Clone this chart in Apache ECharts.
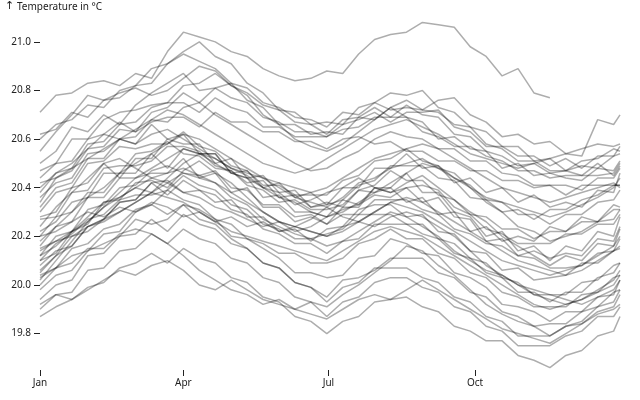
<!DOCTYPE html>
<html>
<head>
<meta charset="utf-8">
<script src="https://cdn.jsdelivr.net/npm/echarts@6/dist/echarts.min.js"></script>
<style>html,body{margin:0;padding:0;background:#fff;}#c{width:640px;height:400px;}</style>
</head>
<body>
<div id="c"></div>
<script>
// sample days (day of year), every 10 days plus Dec 31
const days = [];
for (let d = 0; d <= 360; d += 10) days.push(d);
days.push(364);

const monthTicks = [0, 90, 181, 273];
const monthLabels = ['Jan', 'Apr', 'Jul', 'Oct'];
const yTicks = [19.8, 20.0, 20.2, 20.4, 20.6, 20.8, 21.0];

// upper group
const sA = [20.71,20.78,20.79,20.83,20.84,20.82,20.87,20.85,20.96,21.04,
  21.02,21.00,20.96,20.94,20.89,20.86,20.84,20.85,20.88,20.87,
  20.95,21.01,21.03,21.04,21.08,21.07,21.06,20.98,20.94,20.86,
  20.89,20.79,20.77,null,null,null,null,null];
const sB = [20.60,20.66,20.68,20.74,20.73,20.80,20.82,20.89,20.91,20.95,
  20.92,20.89,20.83,20.81,20.75,20.73,20.69,20.68,20.65,20.71,
  20.70,20.75,20.72,20.73,20.72,20.76,20.77,20.70,20.67,20.61,
  20.62,20.58,20.59,20.54,20.53,20.68,20.66,20.70];
const sU3 = [20.62,20.64,20.71,20.69,20.76,20.77,20.82,20.83,20.91,20.96,
  21.00,20.94,20.91,20.83,20.79,20.72,20.71,20.66,20.67,20.66,
  20.73,20.75,20.79,20.78,20.80,20.73,20.71,20.65,20.63,20.57,
  20.57,20.51,20.52,20.47,20.51,20.52,20.56,20.55];
const sU4 = [20.55,20.63,20.70,20.78,20.76,20.79,20.81,20.78,20.80,20.85,
  20.90,20.88,20.82,20.79,20.74,20.72,20.67,20.66,20.62,20.68,
  20.69,20.73,20.69,20.74,20.70,20.69,20.62,20.61,20.55,20.53,
  20.49,20.50,20.46,20.47,20.49,20.48,20.53,20.54];
const sU5 = [20.50,20.55,20.65,20.63,20.70,20.66,20.74,20.79,20.83,20.87,
  20.80,20.81,20.83,20.76,20.73,20.66,20.66,20.62,20.63,20.62,
  20.69,20.68,20.73,20.69,20.67,20.60,20.61,20.56,20.55,20.48,
  20.50,20.45,20.46,20.44,20.43,20.48,20.47,20.51];
const sU6 = [20.47,20.50,20.60,20.60,20.68,20.71,20.72,20.74,20.75,20.82,
  20.83,20.87,20.82,20.78,20.70,20.66,20.60,20.57,20.55,20.58,
  20.63,20.68,20.73,20.76,20.72,20.71,20.66,20.65,20.58,20.56,
  20.51,20.51,20.47,20.47,20.45,20.50,20.45,20.49];
const sU7 = [20.44,20.50,20.51,20.60,20.62,20.67,20.63,20.71,20.73,20.79,
  20.75,20.81,20.77,20.75,20.69,20.67,20.63,20.63,20.61,20.66,
  20.68,20.71,20.67,20.71,20.71,20.72,20.65,20.63,20.57,20.57,
  20.53,20.53,20.49,20.52,20.48,20.53,20.53,20.57];
const sU8 = [20.38,20.46,20.48,20.58,20.59,20.66,20.67,20.73,20.75,20.75,
  20.71,20.77,20.73,20.71,20.65,20.65,20.61,20.61,20.61,20.64,
  20.65,20.69,20.69,20.69,20.63,20.61,20.57,20.57,20.53,20.51,
  20.47,20.47,20.44,20.45,20.45,20.45,20.46,20.50];
const sU9 = [20.36,20.42,20.44,20.54,20.55,20.60,20.61,20.68,20.67,20.73,
  20.75,20.70,20.66,20.62,20.58,20.54,20.50,20.47,20.48,20.52,
  20.55,20.60,20.63,20.61,20.60,20.56,20.56,20.51,20.51,20.46,
  20.45,20.41,20.41,20.41,20.39,20.44,20.44,20.48];
const sU10 = [20.34,20.44,20.47,20.56,20.57,20.64,20.63,20.67,20.69,20.69,
  20.65,20.71,20.67,20.67,20.63,20.63,20.59,20.59,20.56,20.60,
  20.61,20.58,20.59,20.55,20.55,20.51,20.51,20.47,20.47,20.43,
  20.43,20.40,20.41,20.37,20.41,20.41,20.41,20.41];

// middle group
const sM1 = [20.30,20.38,20.40,20.50,20.51,20.57,20.56,20.58,20.58,20.63,
  20.57,20.55,20.49,20.47,20.41,20.41,20.37,20.37,20.37,20.43,
  20.45,20.51,20.52,20.56,20.51,20.49,20.44,20.41,20.35,20.34,
  20.29,20.29,20.25,20.29,20.29,20.34,20.35,20.39];
const sM2 = [20.27,20.28,20.38,20.39,20.48,20.49,20.49,20.51,20.57,20.57,
  20.55,20.49,20.47,20.41,20.39,20.34,20.35,20.31,20.31,20.33,
  20.39,20.41,20.47,20.43,20.43,20.37,20.35,20.29,20.28,20.23,
  20.23,20.19,20.22,20.22,20.26,20.26,20.31,20.31];
const sM3 = [20.24,20.32,20.38,20.44,20.50,20.52,20.48,20.44,20.42,20.38,
  20.36,20.32,20.30,20.27,20.24,20.26,20.22,20.24,20.28,20.31,
  20.33,20.37,20.36,20.40,20.41,20.39,20.32,20.29,20.23,20.21,
  20.17,20.17,20.17,20.21,20.21,20.25,20.25,20.29];
const sM4 = [20.20,20.28,20.30,20.38,20.38,20.46,20.46,20.54,20.48,20.56,
  20.54,20.54,20.46,20.44,20.36,20.37,20.30,20.30,20.28,20.35,
  20.33,20.40,20.40,20.46,20.38,20.38,20.30,20.28,20.20,20.22,
  20.14,20.16,20.10,20.16,20.14,20.22,20.20,20.28];
const sM5 = [20.18,20.24,20.26,20.36,20.36,20.44,20.44,20.46,20.46,20.52,
  20.44,20.46,20.38,20.40,20.32,20.32,20.26,20.28,20.25,20.32,
  20.32,20.40,20.38,20.40,20.34,20.36,20.28,20.27,20.18,20.19,
  20.12,20.14,20.11,20.13,20.12,20.19,20.18,20.24];
const sM6 = [20.15,20.18,20.20,20.22,20.27,20.30,20.34,20.38,20.44,20.50,
  20.54,20.52,20.48,20.45,20.40,20.38,20.33,20.35,20.38,20.40,
  20.44,20.40,20.38,20.42,20.45,20.40,20.35,20.30,20.26,20.20,
  20.16,20.12,20.08,20.12,20.10,20.17,20.16,20.23];
const sM7 = [20.12,20.20,20.22,20.31,20.33,20.40,20.41,20.47,20.49,20.46,
  20.45,20.47,20.40,20.39,20.33,20.33,20.28,20.29,20.25,20.29,
  20.29,20.35,20.35,20.35,20.31,20.29,20.23,20.21,20.17,20.16,
  20.12,20.11,20.07,20.07,20.08,20.13,20.14,20.19];
const sM8 = [20.10,20.13,20.22,20.25,20.34,20.35,20.42,20.43,20.40,20.47,
  20.51,20.46,20.42,20.36,20.30,20.26,20.24,20.27,20.32,20.36,
  20.42,20.44,20.48,20.50,20.52,20.48,20.46,20.40,20.34,20.30,
  20.24,20.22,20.18,20.20,20.22,20.26,20.27,20.31];
const sM9 = [20.08,20.14,20.16,20.24,20.27,20.34,20.35,20.42,20.43,20.38,
  20.39,20.34,20.35,20.28,20.28,20.22,20.23,20.18,20.23,20.24,
  20.31,20.33,20.33,20.28,20.29,20.22,20.21,20.14,20.13,20.06,
  20.07,20.02,20.03,20.04,20.09,20.09,20.14,20.15];
const sM10 = [20.22,20.26,20.34,20.36,20.46,20.46,20.54,20.55,20.59,20.54,
  20.53,20.48,20.47,20.42,20.43,20.36,20.37,20.32,20.33,20.35,
  20.41,20.43,20.49,20.49,20.49,20.44,20.43,20.36,20.35,20.30,
  20.31,20.27,20.31,20.31,20.35,20.37,20.41,20.41];
const sM11 = [20.32,20.40,20.42,20.52,20.52,20.60,20.58,20.66,20.60,20.62,
  20.54,20.54,20.46,20.47,20.40,20.42,20.36,20.38,20.33,20.40,
  20.40,20.48,20.48,20.54,20.48,20.49,20.42,20.44,20.38,20.40,
  20.34,20.37,20.32,20.34,20.32,20.39,20.38,20.46];
const sM12 = [20.28,20.30,20.40,20.42,20.50,20.44,20.52,20.52,20.60,20.58,
  20.58,20.50,20.52,20.44,20.45,20.38,20.39,20.32,20.34,20.32,
  20.39,20.38,20.40,20.34,20.36,20.29,20.30,20.22,20.24,20.18,
  20.20,20.18,20.24,20.22,20.28,20.26,20.33,20.32];

// lower group
const sL1 = [20.06,20.12,20.16,20.24,20.27,20.34,20.35,20.42,20.37,20.43,
  20.39,20.37,20.31,20.29,20.23,20.21,20.17,20.17,20.13,20.18,
  20.19,20.25,20.25,20.25,20.21,20.19,20.13,20.11,20.05,20.03,
  19.97,19.97,19.93,19.97,19.97,20.03,20.05,20.09];
const sL2 = [20.03,20.07,20.15,20.17,20.23,20.25,20.31,20.33,20.39,20.35,
  20.33,20.27,20.25,20.19,20.17,20.13,20.13,20.09,20.09,20.11,
  20.17,20.19,20.23,20.19,20.19,20.13,20.11,20.05,20.03,19.97,
  19.95,19.91,19.91,19.91,19.96,19.97,20.03,20.04];
const sL3 = [20.00,20.07,20.12,20.14,20.21,20.22,20.30,20.33,20.29,20.33,
  20.31,20.27,20.20,20.19,20.15,20.11,20.05,20.05,20.03,20.04,
  20.11,20.12,20.19,20.17,20.13,20.12,20.05,20.03,19.99,19.92,
  19.91,19.89,19.85,19.89,19.89,19.95,19.96,20.02];
const sL4 = [19.98,20.04,20.06,20.14,20.17,20.20,20.27,20.25,20.27,20.33,
  20.27,20.25,20.19,20.15,20.09,20.07,20.01,19.99,19.95,20.02,
  20.03,20.06,20.11,20.11,20.11,20.05,20.03,19.97,19.95,19.89,
  19.87,19.83,19.84,19.84,19.89,19.91,19.97,19.98];
const sL5 = [19.94,20.00,20.02,20.12,20.13,20.20,20.21,20.27,20.22,20.29,
  20.25,20.23,20.17,20.15,20.09,20.07,20.01,19.99,19.93,19.99,
  20.01,20.07,20.07,20.07,20.03,20.01,19.95,19.93,19.87,19.85,
  19.79,19.79,19.79,19.83,19.84,19.89,19.91,19.96];
const sL6 = [19.90,19.96,19.97,20.06,20.07,20.14,20.15,20.21,20.17,20.23,
  20.19,20.17,20.11,20.09,20.03,20.01,19.95,19.93,19.87,19.93,
  19.95,20.01,20.03,20.03,19.99,19.97,19.91,19.89,19.83,19.81,
  19.75,19.75,19.75,19.79,19.81,19.87,19.87,19.91];
const sL7 = [19.87,19.91,19.94,19.99,20.01,20.07,20.09,20.13,20.09,20.15,
  20.11,20.09,20.03,20.01,19.95,19.93,19.87,19.85,19.80,19.85,
  19.87,19.93,19.94,19.95,19.91,19.89,19.83,19.81,19.77,19.77,
  19.71,19.69,19.66,19.71,19.73,19.79,19.81,19.87];
const sL8 = [20.10,20.17,20.21,20.27,20.29,20.35,20.37,20.37,20.39,20.45,
  20.41,20.39,20.33,20.31,20.25,20.23,20.19,20.19,20.21,20.23,
  20.29,20.29,20.29,20.25,20.25,20.19,20.17,20.11,20.09,20.03,
  20.01,19.96,19.96,19.96,20.01,20.02,20.08,20.09];
const sL9 = [20.04,20.07,20.09,20.15,20.15,20.21,20.23,20.21,20.17,20.12,
  20.06,20.02,19.98,19.96,19.92,19.94,19.90,19.93,19.91,19.96,
  20.00,20.05,20.10,20.16,20.14,20.08,20.04,19.98,19.92,19.88,
  19.85,19.83,19.79,19.83,19.85,19.91,19.93,19.98];
const sL10 = [20.12,20.16,20.22,20.26,20.32,20.36,20.40,20.44,20.46,20.48,
  20.45,20.42,20.36,20.33,20.27,20.24,20.21,20.19,20.16,20.18,
  20.22,20.26,20.30,20.28,20.24,20.20,20.14,20.10,20.06,20.04,
  20.00,19.98,19.96,19.94,19.92,19.95,19.98,20.02];
const sL11 = [19.92,19.96,19.94,19.98,20.02,20.06,20.04,20.08,20.10,20.06,
  20.00,19.98,20.02,19.98,19.94,19.92,19.90,19.88,19.86,19.90,
  19.94,19.96,19.94,19.98,20.02,19.98,19.94,19.90,19.86,19.82,
  19.80,19.78,19.76,19.80,19.84,19.88,19.90,19.92];

// crossing lines
const sX1 = [20.40,20.46,20.50,20.56,20.62,20.60,20.64,20.68,20.72,20.70,
  20.66,20.62,20.58,20.54,20.50,20.48,20.46,20.48,20.52,20.56,
  20.60,20.64,20.66,20.68,20.65,20.62,20.58,20.54,20.52,20.50,
  20.48,20.50,20.52,20.54,20.56,20.58,20.57,20.58];
const sX2 = [20.02,20.10,20.18,20.26,20.32,20.38,20.44,20.48,20.52,20.56,
  20.54,20.50,20.46,20.44,20.40,20.36,20.34,20.30,20.28,20.30,
  20.34,20.38,20.42,20.46,20.50,20.48,20.44,20.40,20.36,20.34,
  20.32,20.30,20.28,20.30,20.33,20.36,20.40,20.44];
const sX3 = [20.16,20.24,20.30,20.36,20.40,20.46,20.50,20.54,20.58,20.62,
  20.60,20.56,20.52,20.48,20.44,20.40,20.36,20.34,20.32,20.28,
  20.26,20.30,20.34,20.32,20.30,20.26,20.22,20.18,20.14,20.10,
  20.08,20.06,20.04,20.06,20.08,20.12,20.16,20.20];
const sX4 = [20.20,20.22,20.26,20.30,20.28,20.32,20.30,20.34,20.32,20.28,
  20.30,20.26,20.28,20.24,20.26,20.22,20.24,20.22,20.20,20.24,
  20.26,20.24,20.28,20.30,20.28,20.24,20.20,20.14,20.08,20.04,
  20.00,19.96,19.94,19.92,19.94,19.98,20.02,20.06];
const sX5 = [20.42,20.44,20.48,20.52,20.56,20.60,20.58,20.62,20.64,20.60,
  20.56,20.52,20.48,20.46,20.44,20.42,20.40,20.38,20.40,20.44,
  20.48,20.52,20.54,20.56,20.58,20.56,20.52,20.48,20.44,20.40,
  20.38,20.36,20.34,20.36,20.38,20.40,20.42,20.40];
const sX6 = [20.05,20.12,20.20,20.24,20.26,20.30,20.34,20.38,20.36,20.34,
  20.30,20.26,20.22,20.20,20.18,20.16,20.14,20.12,20.10,20.14,
  20.18,20.22,20.24,20.22,20.20,20.16,20.12,20.08,20.04,20.00,
  19.96,19.92,19.90,19.92,19.94,19.97,20.00,20.04];
const sX7 = [20.14,20.18,20.22,20.28,20.34,20.36,20.40,20.38,20.42,20.46,
  20.44,20.42,20.38,20.34,20.30,20.26,20.24,20.22,20.20,20.22,
  20.26,20.30,20.34,20.36,20.34,20.30,20.26,20.22,20.18,20.14,
  20.10,20.08,20.06,20.04,20.06,20.10,20.14,20.16];

const allSeries = [sA,sB,sU3,sU4,sU5,sU6,sU7,sU8,sU9,sU10,
  sM1,sM2,sM3,sM4,sM5,sM6,sM7,sM8,sM9,sM10,sM11,sM12,
  sL1,sL2,sL3,sL4,sL5,sL6,sL7,sL8,sL9,sL10,sL11,
  sX1,sX2,sX3,sX4,sX5,sX6,sX7];

const FONT = 'Noto Sans';
const chart = echarts.init(document.getElementById('c'), null, {renderer: 'canvas'});
chart.setOption({
  animation: false,
  backgroundColor: '#fff',
  grid: {left: 40, right: 20, top: 20, bottom: 30},
  graphic: [
    {type: 'text', left: 5, top: 1,
     style: {text: '↑', font: '11px "DejaVu Sans"', fill: '#222'}},
    {type: 'text', left: 17, top: 2,
     style: {text: 'Temperature in °C', font: '10px "Noto Sans"', fill: '#222'}}
  ],
  xAxis: {
    type: 'value', min: 0, max: 364,
    axisLine: {show: false},
    splitLine: {show: false},
    axisTick: {show: true, length: 6, customValues: monthTicks, lineStyle: {color: '#222', width: 1}},
    axisLabel: {
      customValues: monthTicks, margin: 8, color: '#222', fontFamily: FONT, fontSize: 10,
      formatter: v => monthLabels[monthTicks.indexOf(v)] || ''
    }
  },
  yAxis: {
    type: 'value', min: 19.65, max: 21.09,
    axisLine: {show: false},
    splitLine: {show: false},
    axisTick: {show: true, length: 6, customValues: yTicks, lineStyle: {color: '#222', width: 1}},
    axisLabel: {
      customValues: yTicks, margin: 9, color: '#222', fontFamily: FONT, fontSize: 10,
      formatter: v => v.toFixed(1)
    }
  },
  series: allSeries.map(vals => ({
    type: 'line',
    showSymbol: false,
    connectNulls: false,
    silent: true,
    lineStyle: {width: 1.5, color: 'rgba(0,0,0,0.32)'},
    data: days.map((d, i) => [d, vals[i]])
  }))
});
</script>
</body>
</html>
